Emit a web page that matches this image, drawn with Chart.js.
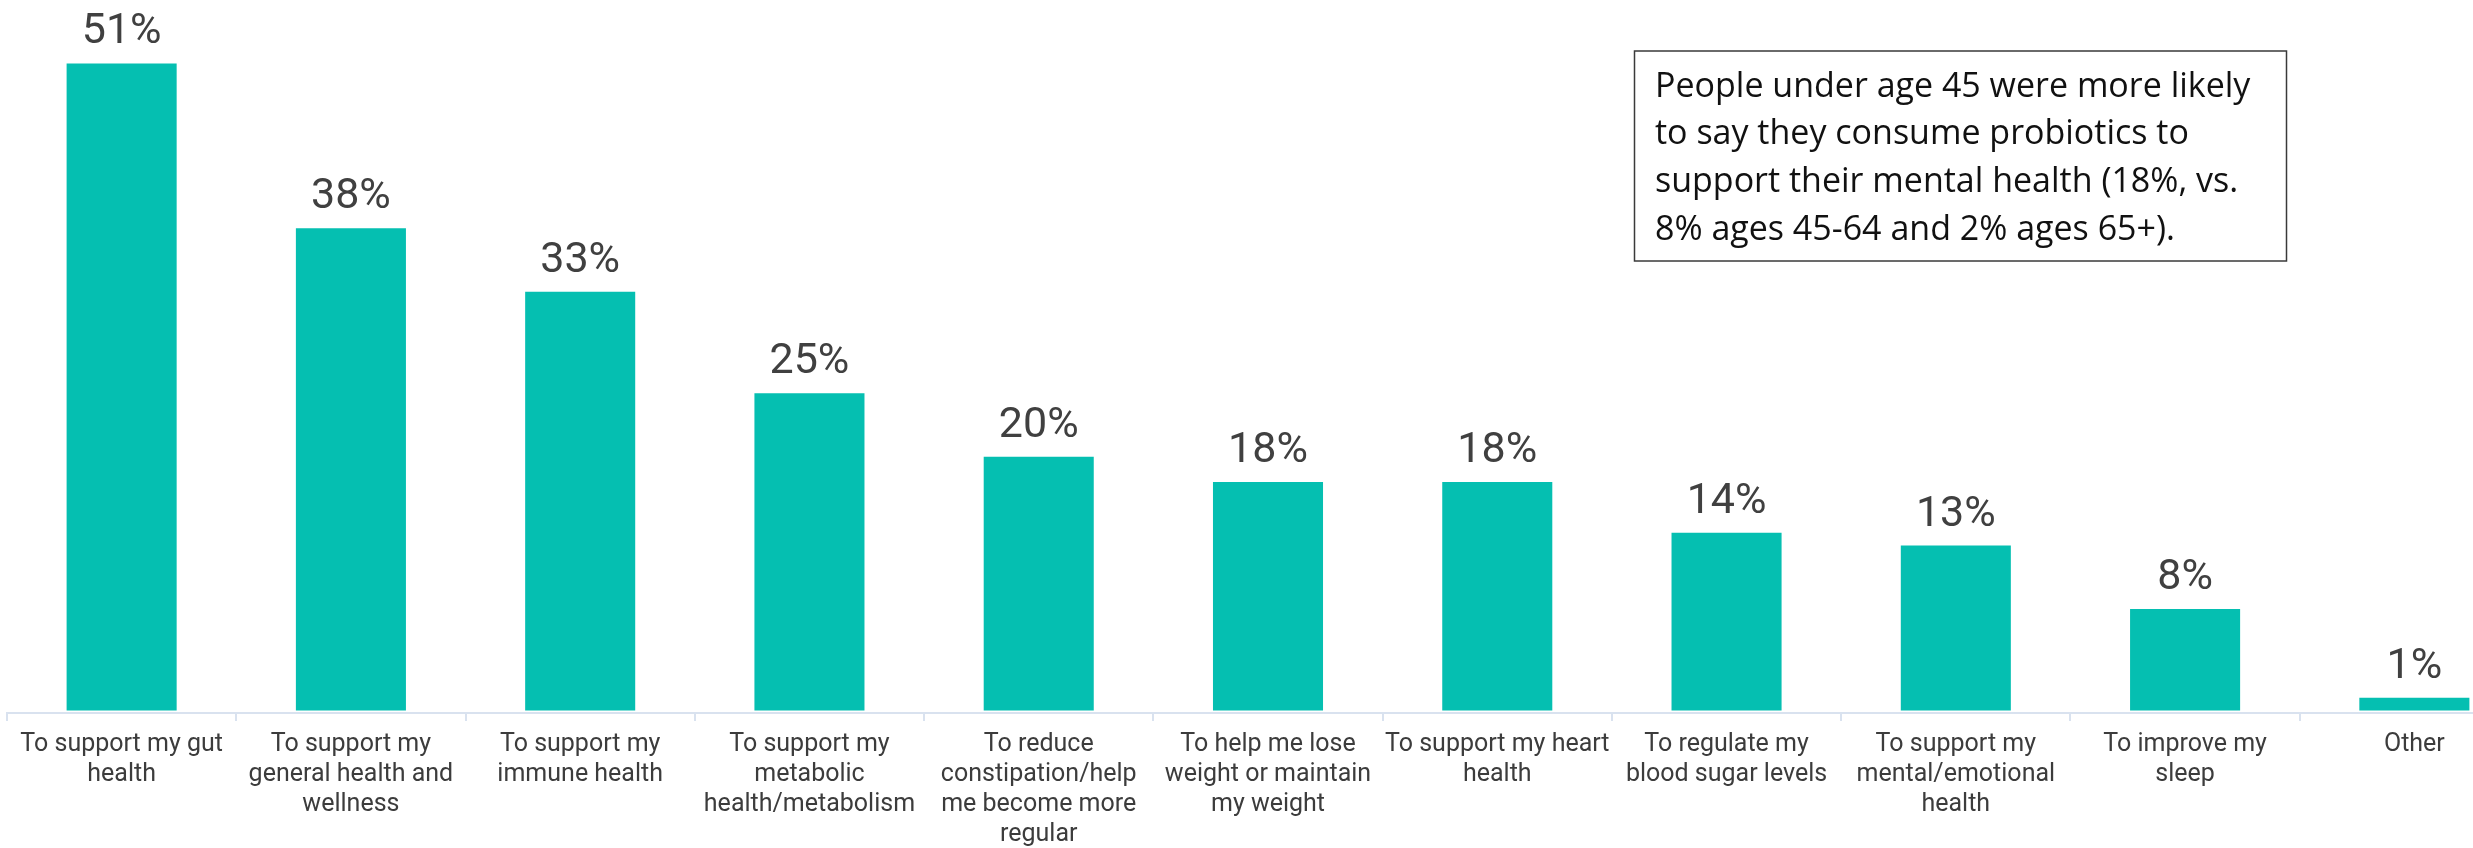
<!DOCTYPE html>
<html>
<head>
<meta charset="utf-8">
<title>Reasons for consuming probiotics</title>
<script src="https://cdn.jsdelivr.net/npm/chart.js@4.4.1/dist/chart.umd.min.js"></script>
<style>
  html, body { margin: 0; padding: 0; background: #ffffff; overflow: hidden; }
  #wrap { position: relative; width: 2540px; height: 880px; }
  canvas { display: block; }
</style>
</head>
<body>
<div id="wrap"><canvas id="chart" width="2540" height="880"></canvas></div>
<script>
// Reasons given for consuming probiotics (share of respondents, %)
const categories = [
  ["To support my gut", "health"],
  ["To support my", "general health and", "wellness"],
  ["To support my", "immune health"],
  ["To support my", "metabolic", "health/metabolism"],
  ["To reduce", "constipation/help", "me become more", "regular"],
  ["To help me lose", "weight or maintain", "my weight"],
  ["To support my heart", "health"],
  ["To regulate my", "blood sugar levels"],
  ["To support my", "mental/emotional", "health"],
  ["To improve my", "sleep"],
  ["Other"]
];
const shares = [51, 38, 33, 25, 20, 18, 18, 14, 13, 8, 1];
const noteLines = [
  "People under age 45 were more likely",
  "to say they consume probiotics to",
  "support their mental health (18%, vs.",
  "8% ages 45-64 and 2% ages 65+)."
];

const BAR_COLOR = "#05BFB1";
const AXIS_COLOR = "#d9e2ef";
const TEXT_COLOR = "#3c3c3c";

// Percent labels above each bar
const valueLabels = {
  id: "valueLabels",
  afterDatasetsDraw(chart) {
    const ctx = chart.ctx;
    const meta = chart.getDatasetMeta(0);
    const data = chart.data.datasets[0].data;
    ctx.save();
    ctx.font = "43px Roboto";
    ctx.fillStyle = "#404040";
    ctx.textAlign = "center";
    ctx.textBaseline = "alphabetic";
    meta.data.forEach((bar, i) => {
      ctx.fillText(data[i] + "%", bar.x, bar.y - 20);
    });
    ctx.restore();
  }
};

// Boxed note in the upper right
const noteBox = {
  id: "noteBox",
  afterDraw(chart) {
    const ctx = chart.ctx;
    ctx.save();
    ctx.strokeStyle = "#3a3a3a";
    ctx.lineWidth = 1.5;
    ctx.strokeRect(1634.5, 51, 652, 210);
    ctx.font = "34px 'Open Sans'";
    ctx.fillStyle = "#111111";
    ctx.textAlign = "left";
    ctx.textBaseline = "alphabetic";
    noteLines.forEach((line, i) => {
      ctx.fillText(line, 1655, 96.5 + i * 47.8);
    });
    ctx.restore();
  }
};

function draw() {
  new Chart(document.getElementById("chart"), {
    type: "bar",
    data: {
      labels: categories,
      datasets: [{
        data: shares,
        backgroundColor: BAR_COLOR,
        borderWidth: 0,
        categoryPercentage: 1,
        barPercentage: 0.48
      }]
    },
    options: {
      responsive: false,
      animation: false,
      devicePixelRatio: 1,
      layout: { padding: { left: 7, right: 11, top: 0, bottom: 0 } },
      plugins: {
        legend: { display: false },
        tooltip: { enabled: false },
        title: { display: false }
      },
      scales: {
        x: {
          afterFit(scale) { scale.height = 167; },
          border: { display: true, color: AXIS_COLOR, width: 2 },
          grid: {
            display: true,
            drawOnChartArea: false,
            drawTicks: true,
            tickLength: 8,
            color: AXIS_COLOR,
            lineWidth: 2
          },
          ticks: {
            autoSkip: false,
            maxRotation: 0,
            minRotation: 0,
            padding: 9,
            color: TEXT_COLOR,
            font: { family: "Roboto", size: 25, lineHeight: 1.2 }
          }
        },
        y: {
          display: false,
          min: -0.2,
          max: 56
        }
      }
    },
    plugins: [valueLabels, noteBox]
  });
}

Promise.all([
  document.fonts.load("43px Roboto"),
  document.fonts.load("25px Roboto"),
  document.fonts.load("34px 'Open Sans'")
]).then(draw, draw);
</script>
</body>
</html>
